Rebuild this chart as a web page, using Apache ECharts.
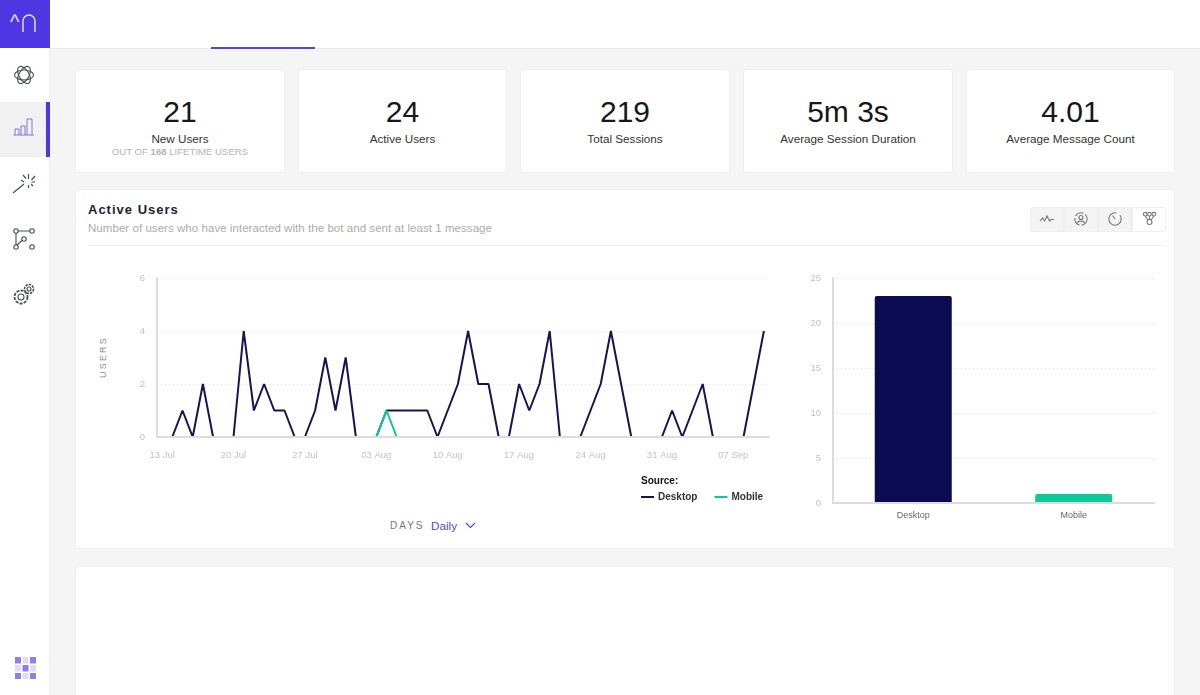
<!DOCTYPE html>
<html>
<head>
<meta charset="utf-8">
<title>Active Users</title>
<script src="https://cdn.jsdelivr.net/npm/echarts@6/dist/echarts.min.js"></script>
<style>
  html, body { margin: 0; width: 1200px; height: 695px; overflow: hidden; background: #f5f5f5; font-family: "Liberation Sans", Arial, sans-serif; }
  .abs { position: absolute; }
  #chart { position: absolute; left: 0; top: 0; width: 1200px; height: 695px; }
  .side { position: absolute; left: 0; top: 0; width: 50px; height: 695px; background: #fff; border-right: 1px solid #eee; box-sizing: border-box; }
  .head { position: absolute; left: 50px; top: 0; width: 1150px; height: 49px; background: #fff; border-bottom: 1px solid #e9e9e9; box-sizing: border-box; }
  .logo { position: absolute; left: 0; top: 0; width: 50px; height: 48px; background: #4e36e2; color: #e8e4ff; }
  .card { position: absolute; background: #fff; border: 1px solid #eeeeee; border-radius: 3px; box-sizing: border-box; }
  .kpi { top: 69px; height: 104px; text-align: center; }
  .kpi .num { position: absolute; left: 0; right: 0; top: 25px; font-size: 30px; line-height: 34px; color: #16161c; }
  .kpi .lab { position: absolute; left: 0; right: 0; top: 62px; font-size: 11.7px; line-height: 14px; color: #333; }
  .kpi .sub { position: absolute; left: 0; right: 0; top: 75px; font-size: 9.6px; line-height: 13px; color: #b4b4b4; }
  .btn { position: absolute; top: 207px; height: 25px; width: 34px; background: #f3f3f3; border: 1px solid #eeeeee; box-sizing: border-box; }
  svg { position: absolute; overflow: visible; fill: none; stroke: #4a4f57; stroke-width: 1.1; }
</style>
</head>
<body>
<div class="head"></div>
<div class="abs" style="left:211px;top:47px;width:104px;height:2px;background:#5a45d6"></div>
<div class="side"></div>
<div class="logo">
  <span class="abs" style="left:10px;top:12px;font-size:20px;line-height:20px;">^</span>
  <svg style="left:22px;top:14px" width="14" height="18"><path d="M1 18V7a6 6 0 0 1 12 0v11" stroke="#e8e4ff" stroke-width="1.4"/></svg>
</div>
<div class="abs" style="left:0;top:102px;width:46px;height:55px;background:#f1f1f1"></div>
<div class="abs" style="left:46px;top:102px;width:4px;height:55px;background:#4e36e2"></div>

<!-- sidebar icons -->
<svg style="left:14px;top:65px" width="20" height="20">
  <ellipse cx="10" cy="10" rx="9.5" ry="5"/><ellipse cx="10" cy="10" rx="9.5" ry="5" transform="rotate(60 10 10)"/><ellipse cx="10" cy="10" rx="9.5" ry="5" transform="rotate(120 10 10)"/>
</svg>
<svg style="left:13px;top:118px;stroke:#8273e0" width="22" height="18">
  <path d="M0.5 17H21M2 17V11H6V17M8 17V8H12V17M14 17V1H19V17" stroke-width="1"/>
</svg>
<svg style="left:13px;top:174px" width="22" height="20">
  <path d="M0 19L11 10M15.5 0V5M15.5 11V14M8 6L11 8M22 2L18.5 6M22 8H18.5M10 1L13 4.5M20 12L18 10" stroke-width="1.2"/>
</svg>
<svg style="left:13px;top:228px" width="22" height="22">
  <circle cx="3" cy="3" r="2.2"/><circle cx="19" cy="3" r="2.2"/><circle cx="3" cy="19" r="2.2"/><circle cx="19" cy="19" r="2.2"/><circle cx="11" cy="11" r="2.2"/>
  <path d="M5 3H17M3 5V17M4 17L9 12.5"/>
</svg>
<svg style="left:13px;top:283px" width="22" height="22">
  <circle cx="8" cy="14" r="6.5" stroke-dasharray="3 1.2" stroke-width="1.8"/><circle cx="8" cy="14" r="3"/>
  <circle cx="16" cy="6" r="4.5" stroke-dasharray="2.4 1" stroke-width="1.6"/><circle cx="16" cy="6" r="2"/>
</svg>
<svg style="left:15px;top:657px;stroke:none" width="21" height="22">
  <rect x="0" y="0" width="6" height="6.5" fill="#8f7fe8"/><rect x="7.5" y="0" width="6" height="6.5" fill="#e0dcf8"/><rect x="15" y="0" width="6" height="6.5" fill="#8f7fe8"/>
  <rect x="0" y="8" width="6" height="6.5" fill="#e0dcf8"/><rect x="7.5" y="8" width="6" height="6.5" fill="#8f7fe8"/><rect x="15" y="8" width="6" height="6.5" fill="#e0dcf8"/>
  <rect x="0" y="16" width="6" height="6" fill="#8f7fe8"/><rect x="7.5" y="16" width="6" height="6" fill="#e0dcf8"/><rect x="15" y="16" width="6" height="6" fill="#8f7fe8"/>
</svg>

<!-- KPI cards -->
<div class="card kpi" style="left:75px;width:210px"><div class="num">21</div><div class="lab">New Users</div><div class="sub">OUT OF <b>168</b> LIFETIME USERS</div></div>
<div class="card kpi" style="left:298px;width:209px"><div class="num">24</div><div class="lab">Active Users</div></div>
<div class="card kpi" style="left:520px;width:210px"><div class="num">219</div><div class="lab">Total Sessions</div></div>
<div class="card kpi" style="left:743px;width:210px"><div class="num">5m 3s</div><div class="lab">Average Session Duration</div></div>
<div class="card kpi" style="left:966px;width:209px"><div class="num">4.01</div><div class="lab">Average Message Count</div></div>

<!-- main card -->
<div class="card" style="left:75px;top:189px;width:1100px;height:360px"></div>
<div class="abs" style="left:88px;top:202px;font-size:13px;line-height:15px;font-weight:bold;letter-spacing:1px;color:#1b2338">Active Users</div>
<div class="abs" style="left:88px;top:221px;font-size:11.5px;line-height:14px;letter-spacing:.05px;color:#ababab">Number of users who have interacted with the bot and sent at least 1 message</div>
<div class="abs" style="left:88px;top:245px;width:1078px;height:1px;background:#eeeeee"></div>

<div class="btn" style="left:1030px;border-radius:3px 0 0 3px"></div>
<div class="btn" style="left:1064px"></div>
<div class="btn" style="left:1098px"></div>
<div class="btn" style="left:1132px;background:#fff;border-radius:0 3px 3px 0"></div>
<svg style="left:1040px;top:215px;stroke:#777" width="14" height="9"><path d="M0 6L2.5 3L4.5 6L7 1L9.5 6L11 4.5H14"/></svg>
<svg style="left:1074px;top:212px;stroke:#777" width="14" height="14"><circle cx="7" cy="7" r="6.2" stroke-dasharray="9 2"/><circle cx="7" cy="5.5" r="2"/><path d="M3.5 11C4 8.5 10 8.5 10.5 11"/></svg>
<svg style="left:1108px;top:212px;stroke:#777" width="14" height="14"><circle cx="7" cy="7" r="6.2" stroke-dasharray="30 4"/><path d="M7 7L4.5 3.5"/></svg>
<svg style="left:1143px;top:212px;stroke:#777" width="13" height="13"><circle cx="2.2" cy="2.2" r="1.8"/><circle cx="6.5" cy="2.2" r="1.8"/><circle cx="10.8" cy="2.2" r="1.8"/><circle cx="6.5" cy="10" r="2.5"/><path d="M2.2 4L5 8M10.8 4L8 8M6.5 4V7.5"/></svg>

<div class="abs" style="left:103px;top:357px;transform:translate(-50%,-50%) rotate(-90deg);font-size:9px;line-height:11px;letter-spacing:2.2px;color:#8c8c8c;white-space:nowrap">USERS</div>
<div class="abs" style="left:390px;top:520px;font-size:10px;line-height:12px;letter-spacing:2px;color:#777">DAYS</div>
<div class="abs" style="left:431px;top:519px;font-size:11.7px;line-height:14px;color:#5a45d6">Daily</div>
<svg style="left:466px;top:523px;stroke:#5a45d6" width="9" height="5"><path d="M0 0L4.5 4.5L9 0"/></svg>

<div class="card" style="left:75px;top:566px;width:1100px;height:140px"></div>

<div id="chart"></div>

<script>
const days = [
  '13 Jul', '14 Jul', '15 Jul', '16 Jul', '17 Jul', '18 Jul', '19 Jul', '20 Jul', '21 Jul', '22 Jul',
  '23 Jul', '24 Jul', '25 Jul', '26 Jul', '27 Jul', '28 Jul', '29 Jul', '30 Jul', '31 Jul', '01 Aug',
  '02 Aug', '03 Aug', '04 Aug', '05 Aug', '06 Aug', '07 Aug', '08 Aug', '09 Aug', '10 Aug', '11 Aug',
  '12 Aug', '13 Aug', '14 Aug', '15 Aug', '16 Aug', '17 Aug', '18 Aug', '19 Aug', '20 Aug', '21 Aug',
  '22 Aug', '23 Aug', '24 Aug', '25 Aug', '26 Aug', '27 Aug', '28 Aug', '29 Aug', '30 Aug', '31 Aug',
  '01 Sep', '02 Sep', '03 Sep', '04 Sep', '05 Sep', '06 Sep', '07 Sep', '08 Sep', '09 Sep', '10 Sep'
];
const desktopDaily = [
  0, 0, 1, 0, 2, 0, 0, 0, 4, 1,
  2, 1, 1, 0, 0, 1, 3, 1, 3, 0,
  0, 0, 1, 1, 1, 1, 1, 0, 1, 2,
  4, 2, 2, 0, 0, 2, 1, 2, 4, 0,
  0, 0, 1, 2, 4, 2, 0, 0, 0, 0,
  1, 0, 1, 2, 0, 0, 0, 0, 2, 4
];
const mobileDaily = [
  0, 0, 0, 0, 0, 0, 0, 0, 0, 0,
  0, 0, 0, 0, 0, 0, 0, 0, 0, 0,
  0, 0, 1, 0, 0, 0, 0, 0, 0, 0,
  0, 0, 0, 0, 0, 0, 0, 0, 0, 0,
  0, 0, 0, 0, 0, 0, 0, 0, 0, 0,
  0, 0, 0, 0, 0, 0, 0, 0, 0, 0
];
const sources = ['Desktop', 'Mobile'];
const sourceTotals = [23, 1];

const NAVY = '#0b0b52';
const GREEN = '#0fc79a';
const FONT = '"Liberation Sans", Arial, sans-serif';

const axisLine = { show: true, lineStyle: { color: '#dcdcdc', width: 2 } };
const splitLine = { show: true, lineStyle: { color: '#dedede', type: [1, 3], width: 1 } };
// labels sit a little under their gridline in the original
const tickLabel = { color: '#c2c2c2', fontSize: 9.5, fontFamily: FONT };

const chart = echarts.init(document.getElementById('chart'), null, { width: 1200, height: 695 });
chart.setOption({
  animation: false,
  backgroundColor: 'transparent',
  title: {
    text: 'Source:', left: 641, top: 476, padding: 0,
    textStyle: { fontSize: 10, fontWeight: 'bold', color: '#111', fontFamily: FONT }
  },
  legend: {
    data: [{ name: 'Desktop', icon: 'rect' }, { name: 'Mobile', icon: 'rect' }],
    left: 641, top: 492, padding: 0, itemWidth: 13, itemHeight: 2, itemGap: 17,
    textStyle: { fontSize: 10, fontWeight: 'bold', color: '#333', fontFamily: FONT, padding: [0, 0, 0, -1] }
  },
  grid: [
    { left: 157, top: 278, width: 612, height: 159 },
    { left: 833, top: 278, width: 321, height: 225 }
  ],
  xAxis: [
    {
      gridIndex: 0, type: 'category', data: days, z: 5, axisLine: axisLine,
      axisTick: { show: false }, splitLine: { show: false },
      axisLabel: { ...tickLabel, interval: 6, margin: 13 }
    },
    {
      gridIndex: 1, type: 'category', data: sources, z: 5, axisLine: axisLine,
      axisTick: { show: false }, splitLine: { show: false },
      axisLabel: { color: '#666', fontSize: 9, fontFamily: FONT, margin: 8 }
    }
  ],
  yAxis: [
    {
      gridIndex: 0, type: 'value', min: 0, max: 6, interval: 2, axisLine: axisLine,
      axisTick: { show: false }, splitLine: splitLine,
      axisLabel: { ...tickLabel, margin: 12, padding: [3, 0, 0, 0] }
    },
    {
      gridIndex: 1, type: 'value', min: 0, max: 25, interval: 5, axisLine: axisLine,
      axisTick: { show: false }, splitLine: splitLine,
      axisLabel: { ...tickLabel, margin: 12, padding: [3, 0, 0, 0] }
    }
  ],
  series: [
    {
      name: 'Desktop', type: 'line', xAxisIndex: 0, yAxisIndex: 0, data: desktopDaily,
      showSymbol: false, lineStyle: { color: '#14145a', width: 2 }, itemStyle: { color: '#14145a' }
    },
    {
      name: 'Mobile', type: 'line', xAxisIndex: 0, yAxisIndex: 0, data: mobileDaily,
      showSymbol: false, lineStyle: { color: GREEN, width: 2 }, itemStyle: { color: GREEN }
    },
    {
      name: 'Total', type: 'bar', xAxisIndex: 1, yAxisIndex: 1, barWidth: 77,
      data: sourceTotals.map(function (v, i) {
        return { value: v, itemStyle: { color: i === 0 ? NAVY : GREEN, borderRadius: [2, 2, 0, 0] } };
      })
    }
  ]
});
</script>
</body>
</html>
